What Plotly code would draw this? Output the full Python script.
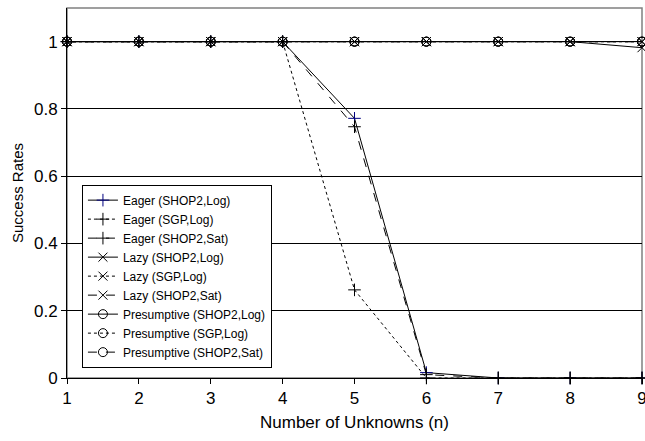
import plotly.graph_objects as go

n_unknowns = [1, 2, 3, 4, 5, 6, 7, 8, 9]

eager_shop2_log = [1, 1, 1, 1, 0.772, 0.016, 0, 0, 0]
eager_sgp_log = [1, 1, 1, 1, 0.262, 0, 0, 0, 0]
eager_shop2_sat = [1, 1, 1, 1, 0.747, 0.01, 0, 0, 0]
lazy_shop2_log = [1, 1, 1, 1, 1, 1, 1, 1, 0.982]
lazy_sgp_log = [1, 1, 1, 1, 1, 1, 1, 1, 1]
lazy_shop2_sat = [1, 1, 1, 1, 1, 1, 1, 1, 1]
pres_shop2_log = [1, 1, 1, 1, 1, 1, 1, 1, 1]
pres_sgp_log = [1, 1, 1, 1, 1, 1, 1, 1, 1]
pres_shop2_sat = [1, 1, 1, 1, 1, 1, 1, 1, 1]

y_ticks = [0, 0.2, 0.4, 0.6, 0.8, 1]
y_tick_labels = ["0", "0.2", "0.4", "0.6", "0.8", "1"]

series = [
    ("Eager (SHOP2,Log)", eager_shop2_log, "solid", "cross-thin-open", "#000080"),
    ("Eager (SGP,Log)", eager_sgp_log, "dot", "cross-thin-open", "black"),
    ("Eager (SHOP2,Sat)", eager_shop2_sat, "dash", "cross-thin-open", "black"),
    ("Lazy (SHOP2,Log)", lazy_shop2_log, "solid", "x-thin-open", "black"),
    ("Lazy (SGP,Log)", lazy_sgp_log, "dot", "x-thin-open", "black"),
    ("Lazy (SHOP2,Sat)", lazy_shop2_sat, "dash", "x-thin-open", "black"),
    ("Presumptive (SHOP2,Log)", pres_shop2_log, "solid", "circle-open", "black"),
    ("Presumptive (SGP,Log)", pres_sgp_log, "dot", "circle-open", "black"),
    ("Presumptive (SHOP2,Sat)", pres_shop2_sat, "dash", "circle-open", "black"),
]

fig = go.Figure()
for name, vals, dash, sym, mcol in series:
    fig.add_trace(go.Scatter(
        x=n_unknowns, y=vals, name=name, mode="lines+markers",
        line=dict(color="black", width=1, dash=dash),
        marker=dict(symbol=sym, size=9, color=mcol, line=dict(color=mcol, width=1)),
        cliponaxis=False,
    ))

fig.update_layout(
    width=645, height=441,
    margin=dict(l=67, r=3, t=8, b=63),
    paper_bgcolor="white", plot_bgcolor="white",
    font=dict(family="Liberation Sans, Arial, sans-serif", size=16, color="black"),
    showlegend=True,
    legend=dict(
        x=0.026, y=0.028, xanchor="left", yanchor="bottom",
        bgcolor="white", bordercolor="black", borderwidth=1,
        font=dict(size=12), tracegroupgap=0,
        itemwidth=30,
    ),
    shapes=[dict(type="rect", xref="paper", yref="paper", x0=0, y0=0, x1=1, y1=1,
                 line=dict(color="#808080", width=1.5), layer="below")],
)

fig.update_xaxes(
    title=dict(text="Number of Unknowns (n)", font=dict(size=17), standoff=8),
    range=[1, 9], tickmode="array", tickvals=n_unknowns,
    ticks="outside", ticklen=5, tickcolor="black", tickfont=dict(size=17),
    ticklabeloverflow="allow",
    showline=True, linecolor="black", linewidth=1,
    showgrid=False, zeroline=False, automargin=False,
)
fig.update_yaxes(
    title=dict(text="Success Rates", font=dict(size=15), standoff=6),
    range=[0, 1.1], tickmode="array", tickvals=y_ticks, ticktext=y_tick_labels,
    ticks="outside", ticklen=5, tickcolor="black", tickfont=dict(size=17),
    ticklabeloverflow="allow",
    showline=True, linecolor="black", linewidth=1,
    showgrid=True, gridcolor="black", gridwidth=1, zeroline=False, automargin=False,
)

fig.write_html("out.html", config={"displayModeBar": False},
               post_script="document.body.style.margin='0';")
